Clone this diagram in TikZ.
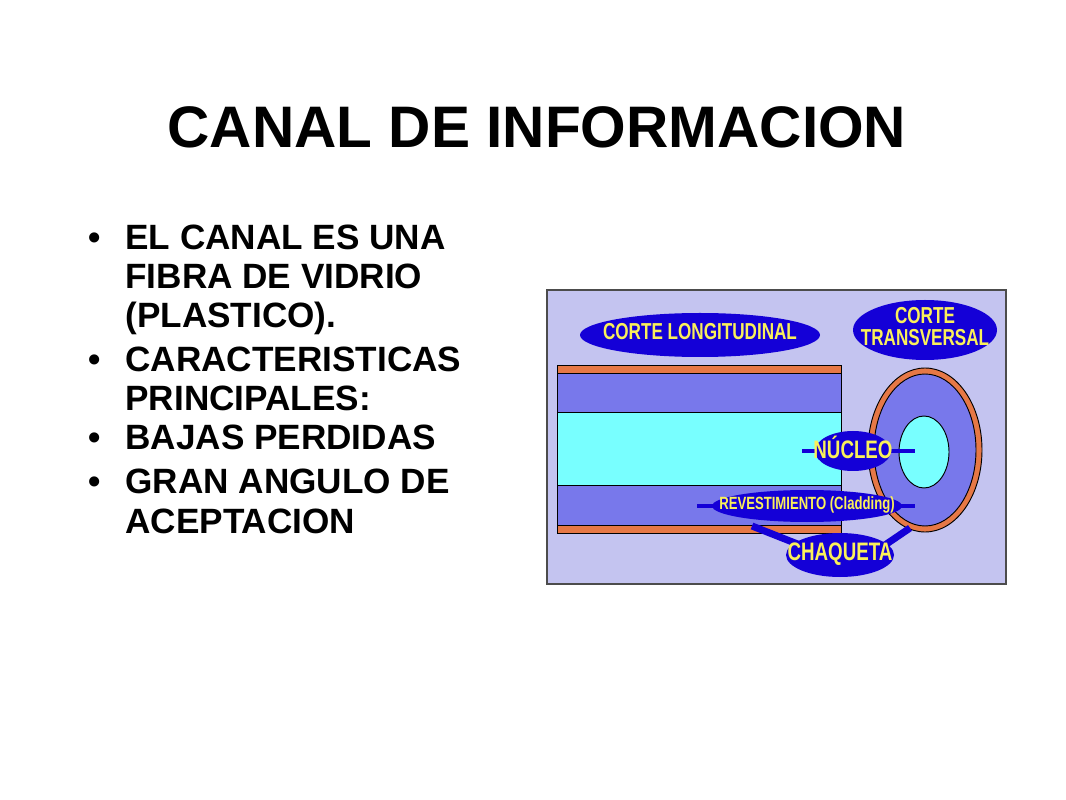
\documentclass[tikz,border=0pt]{standalone}
\usepackage{fontspec}
\setmainfont{Liberation Sans}
\definecolor{lavender}{RGB}{196,196,240}
\definecolor{clad}{RGB}{120,120,235}
\definecolor{core}{RGB}{120,255,255}
\definecolor{jacket}{RGB}{230,120,70}
\definecolor{tagblue}{RGB}{20,0,215}
\definecolor{tagtext}{RGB}{250,240,90}
\newcommand{\fibretag}[6]{% name, centre, x radius, y radius, font size, text
  \fill[tagblue] (#2) ellipse [x radius=#3, y radius=#4];
  \node[tagtxt, font=\bfseries\fontsize{#5}{#5}\selectfont] (#1) at (#2)
    {\scalebox{1}[1.35]{\begin{tabular}{@{}c@{}}#6\end{tabular}}};
}
\begin{document}
\begin{tikzpicture}[x=0.015cm, y=-0.015cm]
  \tikzset{
    tagtxt/.style = {text=tagtext, inner sep=0pt, align=center},
    pointer/.style = {tagblue, line width=1.5pt},
    bullet/.style = {anchor=base west, inner sep=0pt, font=\bfseries\fontsize{15}{18}\selectfont}
  }
  \useasboundingbox (0,0) rectangle (1066,800);

  \node[font=\bfseries\fontsize{25}{30}\selectfont] (title) at (537,127) {CANAL DE INFORMACION};

  % bullet list
  \foreach \y/\t/\b in {
      250/EL CANAL ES UNA/1, 289/FIBRA DE VIDRIO/0, 328/(PLASTICO)./0,
      372/CARACTERISTICAS/1, 411/PRINCIPALES:/0,
      450/BAJAS PERDIDAS/1,
      494/GRAN ANGULO DE/1, 533/ACEPTACION/0}{
    \node[bullet] at (125,\y) {\t};
    \ifnum\b=1 \node[bullet] at (88,\y) {\textbullet}; \fi
  }

  % picture frame
  \fill[lavender] (547,290) rectangle (1006,584);
  \draw[gray!60!black, line width=0.8pt] (547,290) rectangle (1006,584);

  % longitudinal cut
  \draw[fill=jacket] (557,365) rectangle (841,533);
  \draw[fill=clad] (557,373) rectangle (841,525);
  \draw[fill=core] (557,412) rectangle (841,485);

  % cross section
  \draw[fill=jacket] (925,450) ellipse [x radius=57, y radius=82];
  \draw[fill=clad] (925,450) ellipse [x radius=51, y radius=76];
  \draw[fill=core] (924,452) ellipse [x radius=25, y radius=36];

  % labels
  \coordinate (nA) at (802,451);
  \coordinate (nB) at (915,451);
  \coordinate (rA) at (697,506);
  \coordinate (rB) at (915,506);
  \coordinate (cA) at (752,526);
  \coordinate (cB) at (910,528);
  \draw[pointer] (nA) -- (nB);
  \draw[pointer] (rA) -- (rB);
  \fibretag{long}{700,335}{120}{22}{7.3}{CORTE LONGITUDINAL}
  \fibretag{trans}{925,330}{72}{30}{7.3}{CORTE\\[-0.5pt]TRANSVERSAL}
  \fibretag{nucleo}{853,451}{38}{20}{8}{NÚCLEO}
  \fibretag{rev}{807,506}{95}{16}{5.6}{REVESTIMIENTO (Cladding)}
  \coordinate (c1) at (800,545);
  \coordinate (c2) at (885,545);
  \draw[pointer, line width=3pt] (c1) -- (cA);
  \draw[pointer, line width=3pt] (c2) -- (cB);
  \fibretag{chaq}{840,555}{54}{22}{8}{CHAQUETA}
\end{tikzpicture}
\end{document}
